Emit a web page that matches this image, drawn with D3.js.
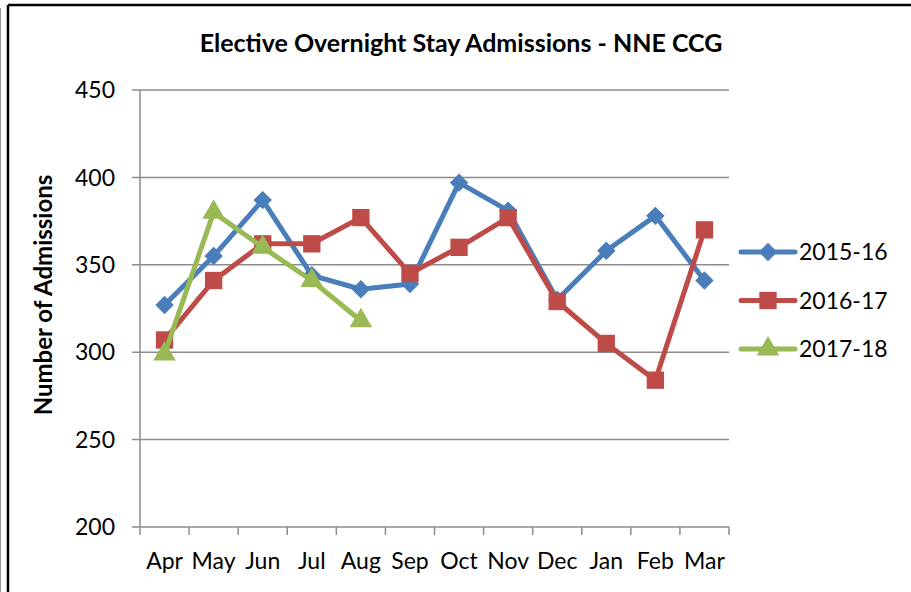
<!DOCTYPE html>
<meta charset="utf-8">
<html>
<head>
    <script src="https://d3js.org/d3.v7.min.js"></script>
    <style>
        body { margin: 0; background: white; }
        text { font-family: Lato, "Open Sans", sans-serif; fill: #000; }
    </style>
</head>
<body>
<script>
    // data
    const months = ["Apr", "May", "Jun", "Jul", "Aug", "Sep", "Oct", "Nov", "Dec", "Jan", "Feb", "Mar"];
    const s1516 = [327, 355, 387, 344, 336, 339, 397, 381, 330, 358, 378, 341];
    const s1617 = [307, 341, 362, 362, 377, 345, 360, 377, 329, 305, 284, 370];
    const s1718 = [299, 380, 360, 341, 318];
    const seriesNames = ["2015-16", "2016-17", "2017-18"];
    const yTicks = [200, 250, 300, 350, 400, 450];

    const width = 911, height = 592;
    const plot = { left: 140, right: 729, top: 90, bottom: 527 };

    const svg = d3.select("body").append("svg")
        .attr("width", width)
        .attr("height", height);

    // outer chart frame (continues past the picture edge)
    svg.append("line").attr("x1", 8).attr("x2", 8).attr("y1", 5).attr("y2", height)
        .attr("stroke", "#000").attr("stroke-width", 2.5);
    svg.append("line").attr("x1", 8).attr("x2", width).attr("y1", 5).attr("y2", 5)
        .attr("stroke", "#000").attr("stroke-width", 2.5);
    svg.append("line").attr("x1", 0.5).attr("x2", 0.5).attr("y1", 8).attr("y2", height)
        .attr("stroke", "#999").attr("stroke-width", 1);

    const x = d3.scaleBand().domain(months).range([plot.left, plot.right]);
    const y = d3.scaleLinear().domain([200, 450]).range([plot.bottom, plot.top]);

    // gridlines
    svg.append("g").selectAll("line")
        .data(yTicks)
        .join("line")
        .attr("x1", plot.left - 8).attr("x2", plot.right)
        .attr("y1", d => y(d)).attr("y2", d => y(d))
        .attr("stroke", "#8c8c8c").attr("stroke-width", 1.5);

    // y axis line
    svg.append("line")
        .attr("x1", plot.left).attr("x2", plot.left)
        .attr("y1", plot.top).attr("y2", plot.bottom)
        .attr("stroke", "#8c8c8c").attr("stroke-width", 1.5);

    // x ticks at band edges
    const edges = months.map(m => x(m)).concat([plot.right]);
    svg.append("g").selectAll("line")
        .data(edges)
        .join("line")
        .attr("x1", d => d).attr("x2", d => d)
        .attr("y1", plot.bottom).attr("y2", plot.bottom + 8)
        .attr("stroke", "#8c8c8c").attr("stroke-width", 1.5);

    // y tick labels
    svg.append("g").selectAll("text")
        .data(yTicks)
        .join("text")
        .attr("x", 115)
        .attr("y", d => y(d))
        .attr("dy", "0.36em")
        .attr("text-anchor", "end")
        .style("font-size", "23px")
        .text(d => d);

    // x tick labels
    svg.append("g").selectAll("text")
        .data(months)
        .join("text")
        .attr("x", d => x(d) + x.bandwidth() / 2)
        .attr("y", 569)
        .attr("text-anchor", "middle")
        .style("font-size", "23px")
        .text(d => d);

    // title
    svg.append("text")
        .attr("x", 461).attr("y", 52)
        .attr("text-anchor", "middle")
        .style("font-size", "25px")
        .style("font-weight", "bold")
        .text("Elective Overnight Stay Admissions - NNE CCG");

    // y axis title
    svg.append("text")
        .attr("transform", "translate(52,295) rotate(-90)")
        .attr("text-anchor", "middle")
        .style("font-size", "24px")
        .style("font-weight", "bold")
        .text("Number of Admissions");

    // square-ish diamond like the Excel marker
    const excelDiamond = {
        draw(ctx, size) {
            const r = Math.sqrt(size / 2);
            ctx.moveTo(0, -r);
            ctx.lineTo(r, 0);
            ctx.lineTo(0, r);
            ctx.lineTo(-r, 0);
            ctx.closePath();
        }
    };

    const series = [
        { name: seriesNames[0], values: s1516, color: "#4a7ebb", symbol: excelDiamond, size: 170 },
        { name: seriesNames[1], values: s1617, color: "#be4b48", symbol: d3.symbolSquare, size: 300 },
        { name: seriesNames[2], values: s1718, color: "#98b954", symbol: d3.symbolTriangle, size: 220 }
    ];

    const line = d3.line()
        .x((d, i) => x(months[i]) + x.bandwidth() / 2)
        .y(d => y(d));

    series.forEach(s => {
        const g = svg.append("g");
        g.append("path")
            .datum(s.values)
            .attr("d", line)
            .attr("fill", "none")
            .attr("stroke", s.color)
            .attr("stroke-width", 5)
            .attr("stroke-linejoin", "round");
        g.selectAll("path.pt")
            .data(s.values)
            .join("path")
            .attr("class", "pt")
            .attr("transform", (d, i) => `translate(${x(months[i]) + x.bandwidth() / 2},${y(d)})`)
            .attr("d", d3.symbol().type(s.symbol).size(s.size))
            .attr("fill", s.color);
    });

    // legend
    const legend = svg.append("g");
    series.forEach((s, i) => {
        const ly = 252 + i * 48.5;
        legend.append("line")
            .attr("x1", 741).attr("x2", 795)
            .attr("y1", ly).attr("y2", ly)
            .attr("stroke", s.color).attr("stroke-width", 5)
            .attr("stroke-linecap", "round");
        legend.append("path")
            .attr("transform", `translate(768,${ly})`)
            .attr("d", d3.symbol().type(s.symbol).size(s.size))
            .attr("fill", s.color);
        legend.append("text")
            .attr("x", 799).attr("y", ly)
            .attr("dy", "0.36em")
            .style("font-size", "23px")
            .text(s.name);
    });
</script>
</body>
</html>
